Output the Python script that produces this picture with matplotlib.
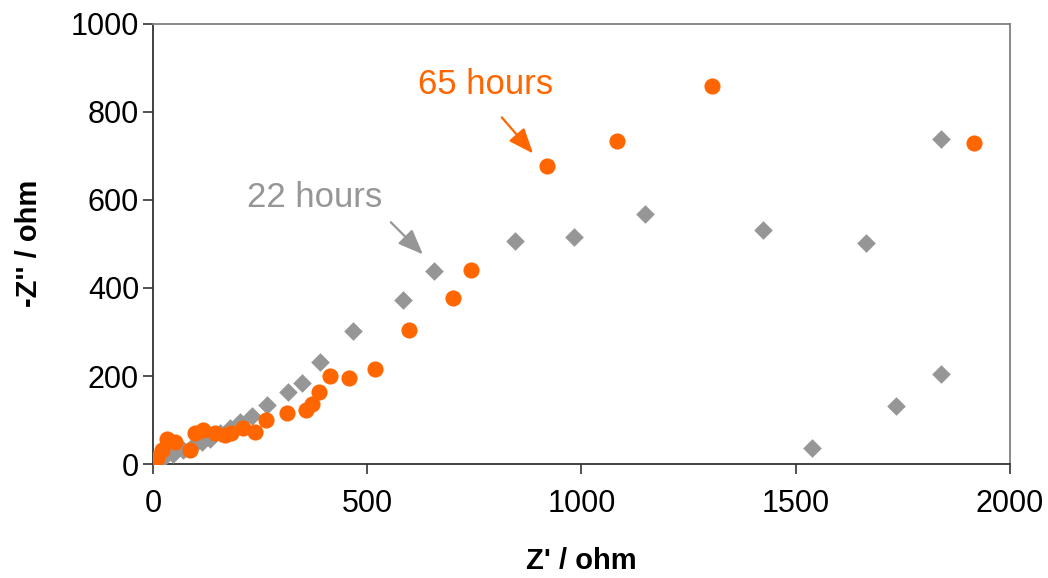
import matplotlib
matplotlib.use("Agg")
import matplotlib.pyplot as plt

plt.rcParams['font.family'] = ['Liberation Sans', 'DejaVu Sans']

# impedance spectra, Z' and -Z'' in ohm
z_re_22h = [1, 24, 47, 71, 94, 114, 133, 156, 180, 203, 230, 265, 314, 347, 390,
            467, 583, 656, 846, 983, 1148, 1423, 1663, 1840, 1840, 1733, 1538]
z_im_22h = [0, 15, 24, 32, 41, 51, 58, 70, 83, 96, 109, 135, 164, 184, 232,
            302, 372, 438, 507, 516, 568, 532, 503, 739, 205, 132, 37]

z_re_65h = [9, 20, 32, 51, 86, 98, 117, 145, 168, 183, 211, 238, 264, 312, 356,
            371, 388, 414, 458, 517, 597, 700, 742, 920, 1084, 1305, 1917]
z_im_65h = [13, 32, 58, 51, 32, 70, 77, 70, 66, 70, 81, 73, 100, 117, 122,
            136, 164, 200, 195, 215, 304, 376, 441, 677, 734, 859, 729]

gray = '#969696'
orange = '#ff6600'

fig = plt.figure(figsize=(10.48, 5.78), dpi=100)
ax = fig.add_axes([0.146, 0.197, 0.8177, 0.7623])

ax.scatter(z_re_22h, z_im_22h, marker='D', s=90, color=gray, linewidths=0, zorder=3)
ax.scatter(z_re_65h, z_im_65h, marker='o', s=135, color=orange, linewidths=0, zorder=4)

ax.set_xlim(0, 2000)
ax.set_ylim(0, 1000)
ax.set_xticks([0, 500, 1000, 1500, 2000])
ax.set_yticks([0, 200, 400, 600, 800, 1000])
ax.tick_params(axis='both', direction='out', length=7, width=1.2,
               labelsize=22, color='#333333')
ax.tick_params(axis='x', pad=11)
ax.tick_params(axis='y', pad=3)

for side in ['left', 'bottom']:
    ax.spines[side].set_color('#333333')
    ax.spines[side].set_linewidth(1.3)
for side in ['top', 'right']:
    ax.spines[side].set_color('#808080')
    ax.spines[side].set_linewidth(1.3)

ax.set_xlabel("Z' / ohm", fontsize=21, fontweight='bold', labelpad=20)
ax.set_ylabel("-Z'' / ohm", fontsize=21, fontweight='bold', labelpad=20)

# series labels and their pointer arrows
ax.text(618, 841, '65 hours', fontsize=25, color=orange, ha='left', va='baseline')
ax.text(219, 583, '22 hours', fontsize=25, color=gray, ha='left', va='baseline')

arrow_style = dict(arrowstyle='-|>,head_length=0.55,head_width=0.22',
                   lw=1.6, mutation_scale=28, shrinkA=0, shrinkB=0)
ax.annotate('', xy=(887, 705), xytext=(814, 787),
            arrowprops=dict(color=orange, **arrow_style))
ax.annotate('', xy=(630, 476), xytext=(555, 549),
            arrowprops=dict(color=gray, **arrow_style))

fig.savefig('out.png', dpi=100)
